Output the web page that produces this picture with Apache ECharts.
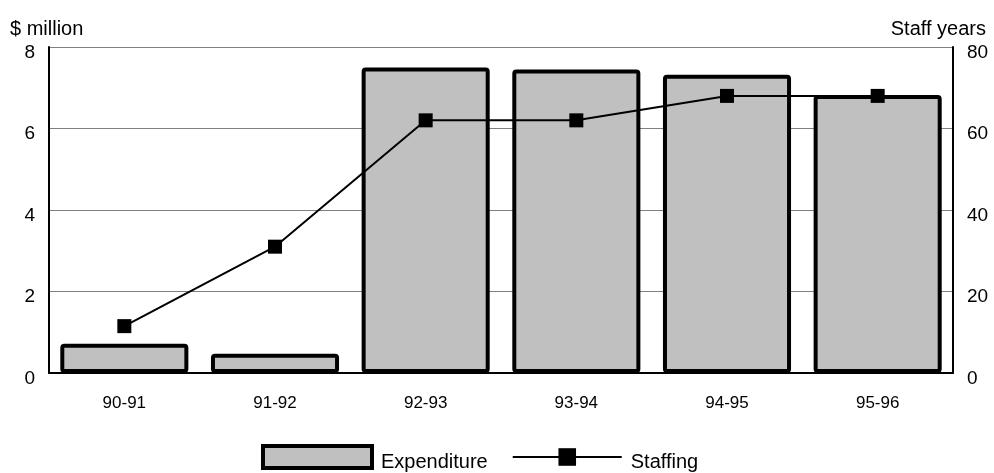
<!DOCTYPE html>
<html>
<head>
<meta charset="utf-8">
<script src="https://cdn.jsdelivr.net/npm/echarts@6/dist/echarts.min.js"></script>
<style>
  html, body { margin: 0; padding: 0; background: #fff; }
  #chart { width: 994px; height: 473px; }
</style>
</head>
<body>
<div id="chart"></div>
<script>
// Financial years along the x axis
const years = ['90-91', '91-92', '92-93', '93-94', '94-95', '95-96'];
// Expenditure, $ million (left axis)
const expenditure = [0.72, 0.47, 7.5, 7.45, 7.32, 6.82];
// Staffing, staff years (right axis)
const staffing = [11.5, 31, 62, 62, 68, 68];
// Axis ranges
const leftMax = 8, leftStep = 2;
const rightMax = 80, rightStep = 20;

const font = 'Liberation Sans, Arial, sans-serif';
const chart = echarts.init(document.getElementById('chart'), null, { renderer: 'canvas' });

// Value labels sit slightly below their gridline
const tickRich = { v: { fontFamily: font, fontSize: 19, color: '#000', padding: [11, 0, 0, 0] } };

chart.setOption({
  animation: false,
  textStyle: { fontFamily: font, color: '#000' },
  grid: { left: 49, right: 41, top: 47, bottom: 100, outerBoundsMode: 'none', containLabel: false },
  legend: {
    top: 439,
    left: 256,
    itemWidth: 109,
    itemHeight: 22,
    itemGap: 24,
    formatter: '{t|{name}}',
    textStyle: {
      fontFamily: font, fontSize: 20, color: '#000',
      rich: { t: { fontFamily: font, fontSize: 20, color: '#000', padding: [10, 0, 0, 4] } }
    },
    data: [
      { name: 'Expenditure', icon: 'rect', itemStyle: { borderWidth: 4, borderColor: '#000', color: '#c0c0c0' } },
      { name: 'Staffing' }
    ]
  },
  xAxis: {
    type: 'category',
    data: years,
    axisLine: { lineStyle: { color: '#000', width: 2 } },
    axisTick: { show: false },
    axisLabel: { fontFamily: font, fontSize: 17, color: '#000', margin: 22 }
  },
  yAxis: [
    {
      type: 'value',
      min: 0, max: leftMax, interval: leftStep,
      name: '$ million',
      nameLocation: 'end',
      nameGap: 8,
      nameTextStyle: { fontFamily: font, fontSize: 20, color: '#000', align: 'left', padding: [0, 0, 0, -39] },
      axisLine: { show: true, lineStyle: { color: '#000', width: 2 } },
      axisTick: { show: false },
      axisLabel: { margin: 14, formatter: '{v|{value}}', rich: tickRich },
      splitLine: { lineStyle: { color: '#808080', width: 1 } }
    },
    {
      type: 'value',
      min: 0, max: rightMax, interval: rightStep,
      name: 'Staff years',
      nameLocation: 'end',
      nameGap: 8,
      nameTextStyle: { fontFamily: font, fontSize: 20, color: '#000', align: 'right', padding: [0, -33, 0, 0] },
      axisLine: { show: true, lineStyle: { color: '#000', width: 2 } },
      axisTick: { show: false },
      axisLabel: { margin: 14, formatter: '{v|{value}}', rich: tickRich },
      splitLine: { show: false }
    }
  ],
  series: [
    {
      name: 'Expenditure',
      type: 'bar',
      yAxisIndex: 0,
      data: expenditure,
      barCategoryGap: '15%',
      itemStyle: { color: '#c0c0c0', borderColor: '#000', borderWidth: 4, borderRadius: 2 }
    },
    {
      name: 'Staffing',
      type: 'line',
      yAxisIndex: 1,
      data: staffing,
      symbol: 'rect',
      symbolSize: 14,
      lineStyle: { color: '#000', width: 2 },
      itemStyle: { color: '#000' },
      z: 5
    }
  ]
});
</script>
</body>
</html>
